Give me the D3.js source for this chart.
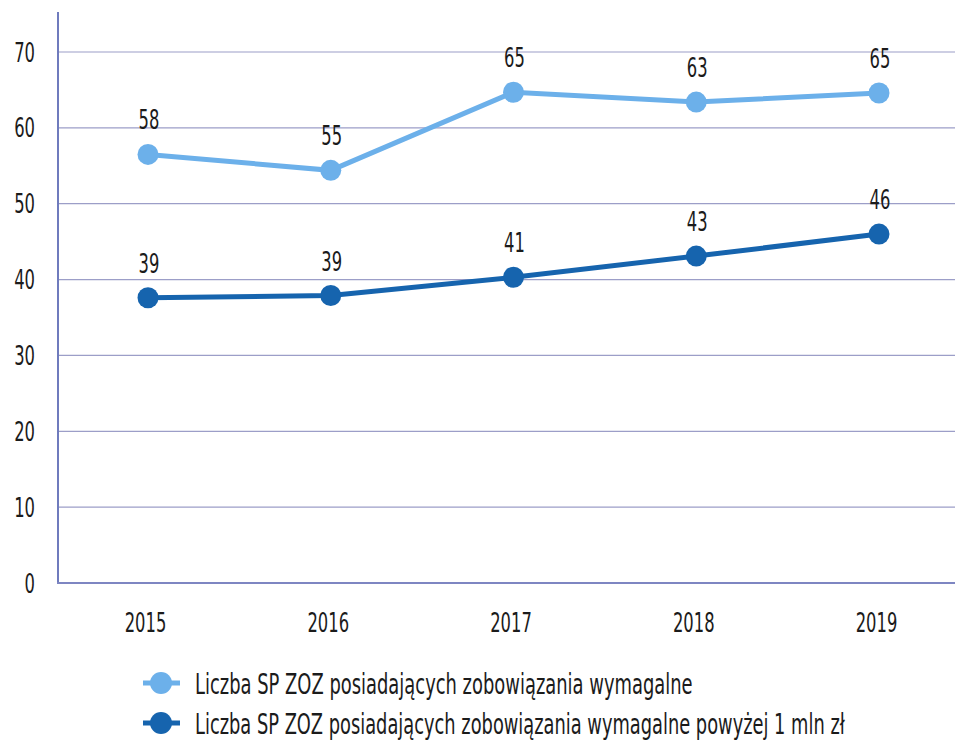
<!DOCTYPE html>
<html>
<head>
<meta charset="utf-8">
<script src="https://cdn.jsdelivr.net/npm/d3@7"></script>
<style>
  html, body { margin: 0; padding: 0; background: #fff; }
  svg { display: block; }
  text { font-family: "DejaVu Sans Condensed", "DejaVu Sans", sans-serif; fill: #1b1b1b; }
</style>
</head>
<body>
<svg id="chart" width="955" height="744"></svg>
<script>
const years = ["2015", "2016", "2017", "2018", "2019"];
// plotted positions
const seriesAll = [56.5, 54.4, 64.7, 63.4, 64.6];
const seriesOver1mln = [37.6, 37.9, 40.3, 43.1, 46.0];
// data labels as printed in the picture
const labelsAll = ["58", "55", "65", "63", "65"];
const labelsOver1mln = ["39", "39", "41", "43", "46"];
const yTicks = [0, 10, 20, 30, 40, 50, 60, 70];
const legendNames = [
  "Liczba SP ZOZ posiadających zobowiązania wymagalne",
  "Liczba SP ZOZ posiadających zobowiązania wymagalne powyżej 1 mln zł"
];

const colLight = "#6cb0ea";
const colDark = "#1664ae";

const svg = d3.select("#chart");
const x = d3.scalePoint().domain(years).range([148, 879]);
const y = d3.scaleLinear().domain([0, 70]).range([583, 52]);

const sx = 0.7; // condensed look
const fs = "26px";

// gridlines
svg.append("g").selectAll("line").data(yTicks.filter(d => d > 0)).join("line")
  .attr("x1", 58).attr("x2", 955)
  .attr("y1", d => y(d)).attr("y2", d => y(d))
  .attr("stroke", "#9c9ec8").attr("stroke-width", 1.2);

// y axis
const yAxis = d3.axisLeft(y).tickValues(yTicks).tickSize(0).tickPadding(0);
const gy = svg.append("g").attr("transform", "translate(58,0)").call(yAxis);
gy.select(".domain").remove();
gy.selectAll("text").attr("x", 0).attr("dy", null).attr("y", 0)
  .attr("transform", d => `translate(-23,9) scale(${sx},1)`)
  .style("font-size", fs).style("text-anchor", "end").style("font-family", null);
svg.append("line").attr("x1", 58).attr("x2", 58).attr("y1", 12).attr("y2", 584)
  .attr("stroke", "#6f7bbd").attr("stroke-width", 2);

// x axis
const xAxis = d3.axisBottom(x).tickSize(0).tickPadding(0);
const gx = svg.append("g").attr("transform", `translate(0,${y(0)})`).call(xAxis);
gx.select(".domain").remove();
gx.selectAll("text").attr("y", 0).attr("dy", null)
  .attr("transform", `translate(-3,49) scale(${sx},1)`)
  .style("font-size", fs).style("font-family", null);
svg.append("line").attr("x1", 57).attr("x2", 955).attr("y1", y(0)).attr("y2", y(0))
  .attr("stroke", "#7e86c2").attr("stroke-width", 1.8);

// series
const series = [
  { vals: seriesAll, labels: labelsAll, color: colLight },
  { vals: seriesOver1mln, labels: labelsOver1mln, color: colDark }
];
const line = d3.line().x((d, i) => x(years[i])).y(d => y(d));
series.forEach(s => {
  svg.append("path").datum(s.vals).attr("d", line)
    .attr("fill", "none").attr("stroke", s.color).attr("stroke-width", 5);
  svg.append("g").selectAll("circle").data(s.vals).join("circle")
    .attr("cx", (d, i) => x(years[i])).attr("cy", d => y(d)).attr("r", 10.5)
    .attr("fill", s.color);
  svg.append("g").selectAll("text").data(s.vals).join("text")
    .attr("transform", (d, i) => `translate(${x(years[i]) + 1},${y(d) - 25}) scale(${sx},1)`)
    .attr("text-anchor", "middle")
    .style("font-size", fs)
    .text((d, i) => s.labels[i]);
});

// legend
const legY = [683, 723];
const legW = [498, 650];
legendNames.forEach((name, i) => {
  const g = svg.append("g").attr("transform", `translate(0,${legY[i]})`);
  g.append("line").attr("x1", 143).attr("x2", 180).attr("y1", 0).attr("y2", 0)
    .attr("stroke", series[i].color).attr("stroke-width", 5);
  g.append("circle").attr("cx", 161).attr("cy", 0).attr("r", 11).attr("fill", series[i].color);
  const t = g.append("text").attr("x", 0).attr("y", 0)
    .style("font-size", "29px")
    .text(name);
  const len = t.node().getComputedTextLength();
  t.attr("transform", `translate(195,11) scale(${legW[i] / len},1)`);
});
</script>
</body>
</html>
